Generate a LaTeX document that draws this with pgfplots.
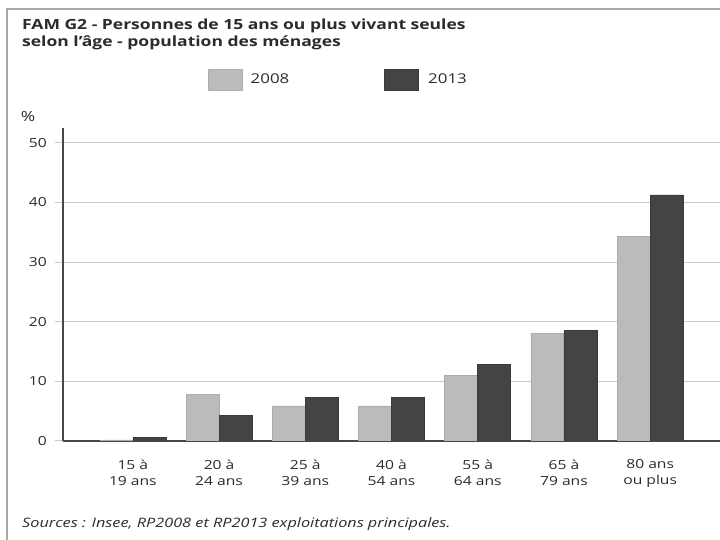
\documentclass[border=0pt]{standalone}
\usepackage{fontspec}
% the reference is drawn wider than the face's own proportions
\setmainfont{Open Sans}[FakeStretch=1.25]
\usepackage{pgfplots}
\pgfplotsset{compat=1.18}
\definecolor{bar08}{HTML}{BBBBBB}
\definecolor{bar13}{HTML}{444444}
\definecolor{gridc}{HTML}{C8C8C8}
\definecolor{axisc}{HTML}{474747}
\definecolor{framec}{HTML}{A8A8A8}
\definecolor{txt}{HTML}{2B2B2B}
\newcommand{\lbl}{\fontsize{12.5bp}{16bp}\selectfont}

\begin{document}
\begin{tikzpicture}[x=1bp,y=1bp]
% page frame (only top and left edges are visible in the crop)
\draw[framec,line width=1.5bp] (7,0) -- (7,531) -- (720,531);
\node[anchor=base west,inner sep=0pt,text=txt,font=\fontsize{14bp}{17bp}\selectfont\bfseries]
  at (22,510) {FAM G2 - Personnes de 15 ans ou plus vivant seules};
\node[anchor=base west,inner sep=0pt,text=txt,font=\fontsize{14bp}{17bp}\selectfont\bfseries]
  at (22,493) {selon l'âge - population des ménages};
\node[anchor=base west,inner sep=0pt,text=txt,font=\fontsize{13bp}{16bp}\selectfont\itshape]
  at (22,12) {Sources : Insee, RP2008 et RP2013 exploitations principales.};

\begin{axis}[
  at={(63bp,99bp)}, anchor=south west,
  scale only axis, width=657bp, height=313bp,
  ybar=0pt, bar width=33bp,
  xmin=-0.81, xmax=6.81, ymin=0, ymax=52.5,
  xtick={0,1,2,3,4,5,6},
  xticklabels={{15 à\\19 ans},{20 à\\24 ans},{25 à\\39 ans},{40 à\\54 ans},
               {55 à\\64 ans},{65 à\\79 ans},{80 ans\\ou plus}},
  ytick={0,10,20,30,40,50},
  axis x line=bottom, axis y line=left,
  axis line style={-,axisc,line width=1.2bp},
  ymajorgrids=true, grid style={gridc,line width=1bp},
  tick align=outside, major tick length=8bp,
  ytick style={gridc,line width=1bp},
  xtick style={draw=none},
  /pgf/number format/assume math mode=true,
  tick label style={font=\lbl,text=txt},
  x tick label style={align=center,anchor=north,inner sep=0pt,yshift=-10.5bp},
  y tick label style={anchor=east,inner sep=0pt,xshift=-8bp},
  every axis y label/.style={at={(axis description cs:-0.053,1.037)},anchor=center},
  ylabel={\%}, label style={font=\fontsize{14bp}{16bp}\selectfont,text=txt},
  legend columns=2,
  legend style={at={(0.2207,1.155)},anchor=west,draw=none,fill=none,
                inner sep=0pt,column sep=0pt,
                font=\fontsize{13.5bp}{16bp}\selectfont,text=txt,
                nodes={inner sep=0pt}},
  legend image code/.code={\fill[#1] (0bp,-10.5bp) rectangle (34bp,10.5bp);},
]
\addplot[fill=bar08,draw=bar08!92!black,line width=0.5bp] coordinates {
  (0,0.2) (1,7.8) (2,5.9) (3,5.9) (4,11.0) (5,18.0) (6,34.3)};
\addplot[fill=bar13,draw=bar13!85!black,line width=0.5bp] coordinates {
  (0,0.6) (1,4.3) (2,7.3) (3,7.3) (4,12.9) (5,18.5) (6,41.3)};
\legend{\hspace*{8bp}\makebox[133bp][l]{2008},\hspace*{10bp}2013}
\end{axis}
\pgfresetboundingbox
\path[use as bounding box] (0,0) rectangle (720,540);
\end{tikzpicture}
\end{document}
